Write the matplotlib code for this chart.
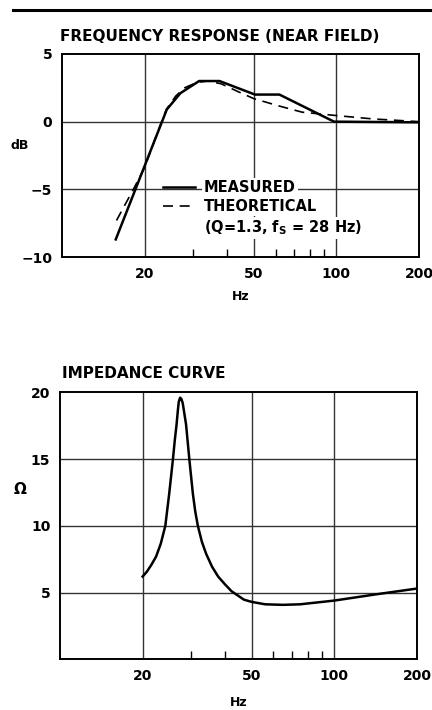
import matplotlib
matplotlib.use("Agg")
import matplotlib.pyplot as plt
from matplotlib.lines import Line2D
from matplotlib.ticker import FixedLocator, NullFormatter

# frequency response (near field)
meas_hz = [15.7, 24.1, 27.0, 31.6, 37.5, 50.5, 62.0, 98.0, 200.0]
meas_db = [-8.7, 0.9, 2.1, 3.0, 3.0, 2.0, 2.0, 0.0, -0.05]

theo_hz = [15.8, 18.2, 20.0, 22.0, 24.0, 26.0, 28.0, 31.0, 34.0, 38.0, 44.0, 50.0, 62.0, 75.0, 100.0, 136.0, 200.0]
theo_db = [-7.3, -5.0, -3.4, -1.1, 0.9, 1.9, 2.5, 2.9, 3.0, 2.8, 2.2, 1.7, 1.15, 0.7, 0.45, 0.2, 0.0]

# impedance curve
imp_hz = [20.0, 20.7, 21.5, 22.4, 23.3, 24.2, 25.0, 25.8, 26.2, 26.6, 26.9, 27.1, 27.4, 27.7,
          28.0, 28.4, 28.8, 29.2, 29.6, 30.5, 31.1, 31.8, 32.9, 34.1, 35.8, 37.7, 40.0, 42.2,
          46.8, 50.0, 56.0, 65.0, 75.0, 100.0, 140.0, 200.0]
imp_ohm = [6.2, 6.55, 7.06, 7.7, 8.67, 10.0, 12.4, 15.0, 16.4, 17.6, 18.7, 19.3, 19.6, 19.5,
           19.2, 18.4, 17.6, 16.3, 15.0, 12.4, 11.1, 10.0, 8.8, 7.9, 6.95, 6.2, 5.6, 5.1,
           4.47, 4.3, 4.12, 4.08, 4.12, 4.4, 4.85, 5.3]

x_major = [20, 50, 100, 200]
x_minor = [30, 40, 60, 70, 80, 90]
x_grid = [20, 50, 100]

plt.rcParams["font.family"] = "DejaVu Sans"
plt.rcParams["font.weight"] = "bold"
plt.rcParams["axes.titleweight"] = "bold"
plt.rcParams["axes.labelweight"] = "bold"

fig = plt.figure(figsize=(4.32, 7.10), dpi=100)

# rule line at the very top
fig.add_artist(Line2D([0.03, 1.0], [0.986, 0.986], color="black", lw=2.2))


def setup_axes(ax, yticks, ylim):
    ax.set_xscale("log")
    ax.set_xlim(10, 200)
    ax.set_ylim(*ylim)
    ax.xaxis.set_major_locator(FixedLocator(x_major))
    ax.set_xticklabels([str(v) for v in x_major])
    ax.xaxis.set_minor_locator(FixedLocator(x_minor))
    ax.xaxis.set_minor_formatter(NullFormatter())
    ax.set_yticks(yticks)
    ax.tick_params(axis="both", which="major", length=0, labelsize=10, pad=7)
    ax.tick_params(axis="x", which="minor", direction="in", length=6, width=1.0)
    for v in x_grid:
        ax.axvline(v, color="#333333", lw=1.0, zorder=0)
    for v in yticks:
        if ylim[0] < v < ylim[1]:
            ax.axhline(v, color="#333333", lw=1.0, zorder=0)
    for s in ax.spines.values():
        s.set_linewidth(1.4)


# ---- frequency response ----
ax1 = fig.add_axes([0.1435, 0.638, 0.8264, 0.286])
setup_axes(ax1, [-10, -5, 0, 5], (-10, 5))
ax1.plot(meas_hz, meas_db, color="black", lw=1.8, label="MEASURED", zorder=3)
ax1.plot(theo_hz, theo_db, color="black", lw=1.2, ls=(0, (6, 4)), label="THEORETICAL", zorder=3)
ax1.set_title("FREQUENCY RESPONSE (NEAR FIELD)", loc="left", fontsize=11, pad=9, x=-0.005)
ax1.set_xlabel("Hz", fontsize=9, labelpad=7)
ax1.set_ylabel("dB", rotation=0, fontsize=9)
ax1.yaxis.set_label_coords(-0.118, 0.517)

handles = [Line2D([], [], color="black", lw=1.8),
           Line2D([], [], color="black", lw=1.2, ls=(0, (6, 4))),
           Line2D([], [], color="none")]
labels = ["MEASURED", "THEORETICAL", "(Q=1.3, f$_\\mathbf{S}$ = 28 Hz)"]
leg = ax1.legend(handles, labels, loc="upper left", bbox_to_anchor=(0.255, 0.43),
                 frameon=False, handlelength=2.2, handletextpad=0.6,
                 labelspacing=0.3, borderpad=0.2, fontsize=10.5)
for t in leg.get_texts():
    t.set_bbox(dict(facecolor="white", edgecolor="none", pad=1.5))
leg.set_zorder(2)

# ---- impedance curve ----
ax2 = fig.add_axes([0.139, 0.0714, 0.826, 0.376])
setup_axes(ax2, [5, 10, 15, 20], (0, 20))
ax2.plot(imp_hz, imp_ohm, color="black", lw=1.8, solid_joinstyle="round", zorder=3)
ax2.set_title("IMPEDANCE CURVE", loc="left", fontsize=11, pad=10, x=0.005)
ax2.set_xlabel("Hz", fontsize=9, labelpad=9)
ax2.set_ylabel("\u03a9", rotation=0, fontsize=11)
ax2.yaxis.set_label_coords(-0.112, 0.608)

fig.savefig("out.png", dpi=100)
